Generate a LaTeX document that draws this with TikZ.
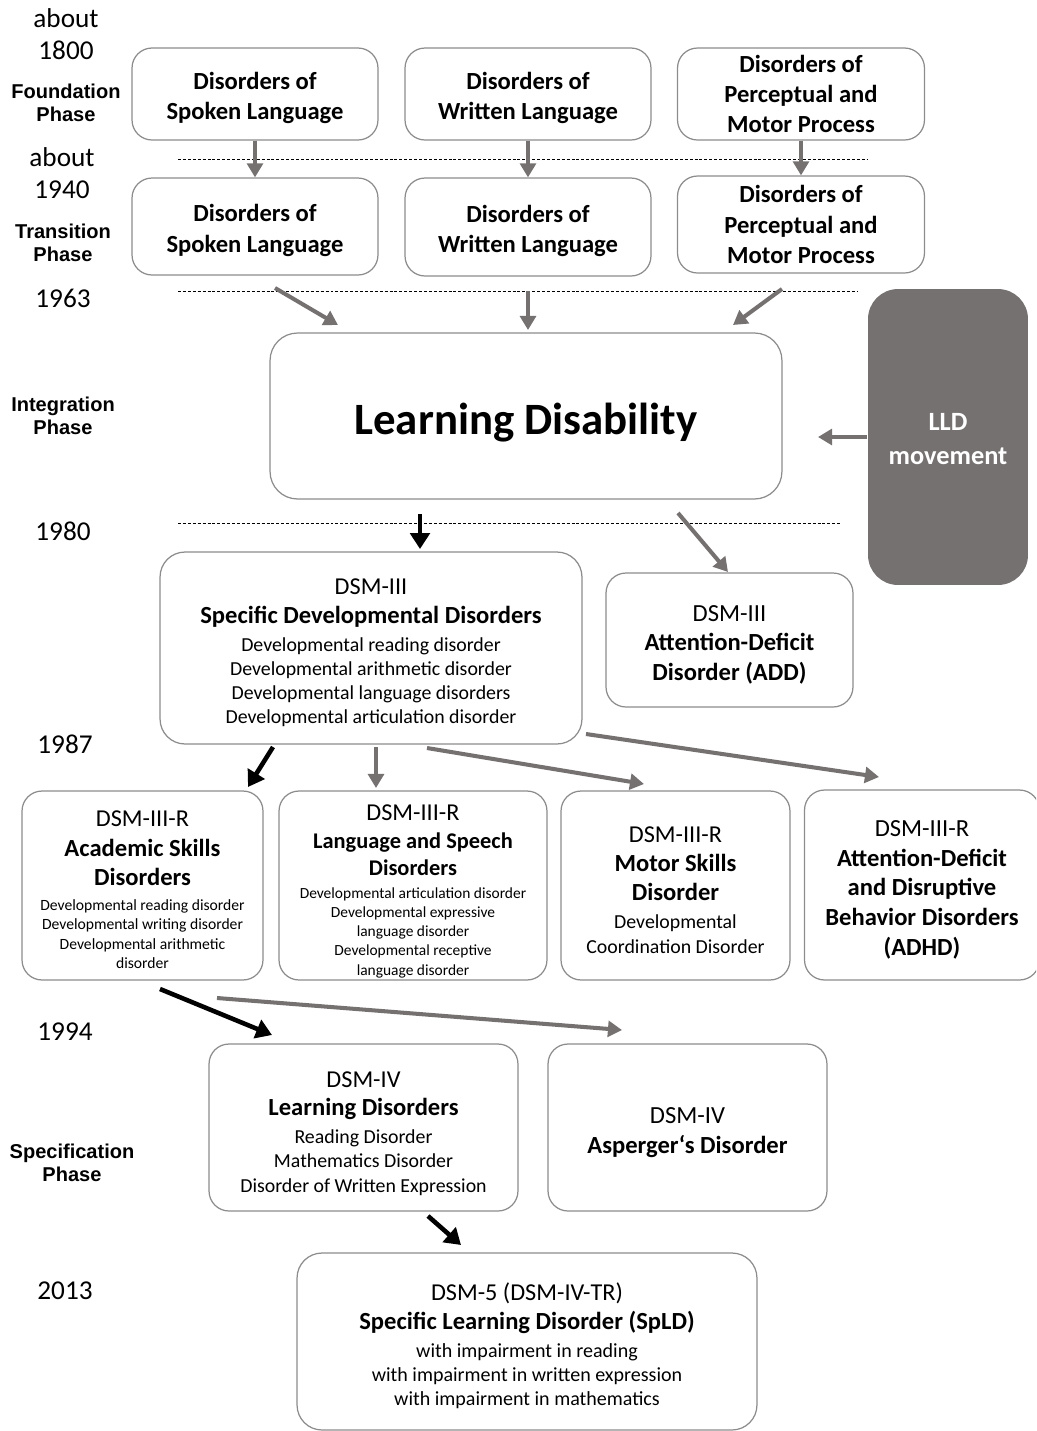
\documentclass[tikz,border=0pt]{standalone}
\usepackage{fontspec}
\setmainfont{Carlito}
\newfontfamily\phasefont{Liberation Sans}
\usetikzlibrary{arrows.meta}

\definecolor{boxgray}{HTML}{8C8C8C}
\definecolor{arrgray}{HTML}{767171}

\newcommand{\dsm}[1]{{\fontsize{13.8}{16}\selectfont #1}}
\newcommand{\ttl}[1]{{\fontsize{14}{16}\selectfont\bfseries #1}}
\newcommand{\tstrut}[1][14.5pt]{\rule{0pt}{#1}}
\lineskiplimit=-100pt

\tikzset{
  box/.style={draw=boxgray, line width=0.7pt, rounded corners=0.4cm, align=center, inner sep=0pt},
  year/.style={font=\fontsize{15.5}{18.2}\selectfont, align=center},
  phase/.style={font=\phasefont\bfseries\fontsize{11.4}{13}\selectfont, align=center},
  arr/.style={draw=arrgray, line width=2.3pt, -{Triangle[length=8pt,width=9pt]}},
  blk/.style={draw=black, line width=2.6pt, -{Triangle[length=9pt,width=11pt]}},
  sep/.style={line width=0.5pt, dash pattern=on 1.7pt off 1.1pt}
}

\begin{document}
\begin{tikzpicture}[x=0.02cm, y=-0.02cm]
    \useasboundingbox (0,0) rectangle (1036,1431);
    \clip (0,0) rectangle (1036,1431);

    % years and phases
    \node[year] (y1800) at (66,34) {about\\1800};
    \node[phase] (p1) at (66,103) {Foundation\\Phase};
    \node[year] (y1940) at (62,173.5) {about\\1940};
    \node[phase] (p2) at (63,243) {Transition\\Phase};
    \node[year] (y1963) at (63,298) {1963};
    \node[phase] (p3) at (63,416) {Integration\\Phase};
    \node[year] (y1980) at (63,531) {1980};
    \node[year] (y1987) at (65,744) {1987};
    \node[year] (y1994) at (65,1032) {1994};
    \node[phase] (p4) at (72,1163) {Specification\\Phase};
    \node[year] (y2013) at (65,1291) {2013};

    \draw[sep] (178,159) -- (868,159);
    \draw[sep] (178,291) -- (858,291);
    \draw[sep] (178,523) -- (842,523);

    % foundation and transition
    \node[box, minimum width=4.92cm, minimum height=1.84cm, font=\fontsize{14}{17.3}\selectfont\bfseries] (f1) at (255,94) {\tstrut Disorders of\\Spoken Language};
    \node[box, minimum width=4.92cm, minimum height=1.84cm, font=\fontsize{14}{17.3}\selectfont\bfseries] (f2) at (528,94) {\tstrut Disorders of\\Written Language};
    \node[box, minimum width=4.94cm, minimum height=1.84cm, font=\fontsize{14}{17.3}\selectfont\bfseries] (f3) at (801,94) {Disorders of\\Perceptual and\\Motor Process};
    \node[box, minimum width=4.92cm, minimum height=1.94cm, font=\fontsize{14}{17.3}\selectfont\bfseries] (t1) at (255,226.5) {\tstrut Disorders of\\Spoken Language};
    \node[box, minimum width=4.92cm, minimum height=1.96cm, font=\fontsize{14}{17.3}\selectfont\bfseries] (t2) at (528,227) {\tstrut Disorders of\\Written Language};
    \node[box, minimum width=4.94cm, minimum height=1.94cm, font=\fontsize{14}{17.3}\selectfont\bfseries] (t3) at (801,224.5) {Disorders of\\Perceptual and\\Motor Process};

    % integration
    \node[box, rounded corners=0.55cm, minimum width=10.24cm, minimum height=3.32cm, font=\fontsize{25.5}{30}\selectfont\bfseries] (ld) at (526,416) {\tstrut[25pt]Learning Disability};
    \node[box, draw=none, fill=arrgray, rounded corners=0.6cm, minimum width=3.2cm, minimum height=5.92cm, text=white, font=\fontsize{15}{19.3}\selectfont\bfseries] (lld) at (948,437) {\tstrut[12pt]LLD\\movement};

    % 1980
    \node[box, rounded corners=0.5cm, minimum width=8.44cm, minimum height=3.84cm, font=\fontsize{11.3}{13.66}\selectfont] (sdd) at (371,648) {\dsm{\tstrut[14pt]DSM-III}\\[2.8pt]\ttl{Specific Developmental Disorders}\\[2.2pt]Developmental reading disorder\\Developmental arithmetic disorder\\Developmental language disorders\\Developmental articulation disorder};
    \node[box, minimum width=4.94cm, minimum height=2.68cm, font=\fontsize{14}{16.7}\selectfont] (add) at (729.5,640) {\tstrut DSM-III\\\textbf{Attention-Deficit}\\\textbf{Disorder (ADD)}};

    % 1987
    \node[box, minimum width=4.82cm, minimum height=3.78cm, font=\fontsize{8.9}{10.8}\selectfont] (asd) at (142.5,885.5) {\dsm{\tstrut[13.5pt]DSM-III-R}\\[6.3pt]\ttl{Academic Skills}\\[5.7pt]\ttl{Disorders}\\[3.4pt]Developmental reading disorder\\Developmental writing disorder\\[0.6pt]Developmental arithmetic\\disorder};
    \node[box, minimum width=5.36cm, minimum height=3.78cm, font=\fontsize{8.8}{10.8}\selectfont] (lsd) at (413,885.5) {\dsm{\tstrut[16pt]DSM-III-R}\\[5.1pt]{\fontsize{12.75}{15}\selectfont\bfseries Language and Speech}\\[4.6pt]{\fontsize{12.75}{15}\selectfont\bfseries Disorders}\\[2.3pt]Developmental articulation disorder\\Developmental expressive\\language disorder\\Developmental receptive\\[0.6pt]language disorder};
    \node[box, minimum width=4.58cm, minimum height=3.78cm, font=\fontsize{11.3}{14.2}\selectfont] (msd) at (675.5,885.5) {\dsm{\tstrut DSM-III-R}\\[2.3pt]\ttl{Motor Skills}\\[2.3pt]\ttl{Disorder}\\[1.7pt]Developmental\\Coordination Disorder};
    \node[box, minimum width=4.7cm, minimum height=3.8cm, font=\fontsize{14}{16.9}\selectfont] (adhd) at (922,885) {\tstrut DSM-III-R\\\textbf{Attention-Deficit}\\\textbf{and Disruptive}\\\textbf{Behavior Disorders}\\\textbf{(ADHD)}};

    % 1994
    \node[box, minimum width=6.18cm, minimum height=3.34cm, font=\fontsize{11.3}{13.7}\selectfont] (ldis) at (363.5,1127.5) {\dsm{\tstrut[16pt]DSM-IV}\\[2.8pt]\ttl{Learning Disorders}\\[2.2pt]Reading Disorder\\Mathematics Disorder\\[0.5pt]Disorder of Written Expression};
    \node[box, minimum width=5.58cm, minimum height=3.34cm, font=\fontsize{14}{17}\selectfont] (asp) at (687.5,1127.5) {\tstrut DSM-IV\\\textbf{Asperger‘s Disorder}};

    % 2013
    \node[box, rounded corners=0.5cm, minimum width=9.2cm, minimum height=3.54cm, font=\fontsize{11.4}{13.7}\selectfont] (spld) at (527,1341.5) {\dsm{\tstrut DSM-5 (DSM-IV-TR)}\\[2.8pt]\ttl{Specific Learning Disorder (SpLD)}\\[2.2pt]with impairment in reading\\with impairment in written expression\\with impairment in mathematics};

    % arrow ends
    \coordinate (t1o) at (275,288); \coordinate (ld1) at (338,325);
    \coordinate (t2o) at (528,291); \coordinate (ld2) at (528,330);
    \coordinate (t3o) at (782,289); \coordinate (ld3) at (733,325);
    \coordinate (ldr) at (818,437);
    \coordinate (ldo1) at (420,514); \coordinate (sddi) at (420,549);
    \coordinate (ldo2) at (678,513); \coordinate (addi) at (728,572);
    \coordinate (sddo1) at (273,747); \coordinate (asdi) at (248,787);
    \coordinate (sddo2) at (376,747); \coordinate (lsdi) at (376,788);
    \coordinate (sddo3) at (427,748); \coordinate (msdi) at (644,784);
    \coordinate (sddo4) at (586,734); \coordinate (adhdi) at (879,777);
    \coordinate (asdo1) at (160,989); \coordinate (ldisi) at (272,1035);
    \coordinate (asdo2) at (217,998); \coordinate (aspi) at (622,1030);
    \coordinate (ldiso) at (428,1216); \coordinate (spldi) at (461,1245);

    \draw[arr] (f1.south) -- (t1.north);
    \draw[arr] (f2.south) -- (t2.north);
    \draw[arr] (f3.south) -- (t3.north);
    \draw[arr] (t1o) -- (ld1);
    \draw[arr] (t2o) -- (ld2);
    \draw[arr] (t3o) -- (ld3);
    \draw[arr] (lld.west) -- (ldr);
    \draw[blk] (ldo1) -- (sddi);
    \draw[arr] (ldo2) -- (addi);
    \draw[blk] (sddo1) -- (asdi);
    \draw[arr] (sddo2) -- (lsdi);
    \draw[arr] (sddo3) -- (msdi);
    \draw[arr] (sddo4) -- (adhdi);
    \draw[blk] (asdo1) -- (ldisi);
    \draw[arr] (asdo2) -- (aspi);
    \draw[blk] (ldiso) -- (spldi);
\end{tikzpicture}
\end{document}
